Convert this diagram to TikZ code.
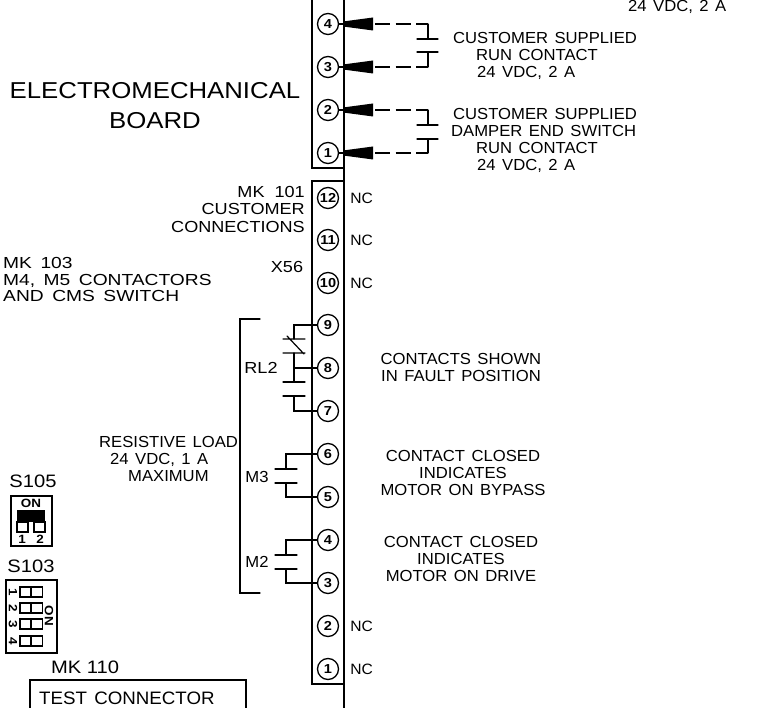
\documentclass[tikz,border=0pt]{standalone}
\usepackage{fontspec}
\setmainfont[FakeStretch=1.12]{Liberation Sans}
\newfontfamily\midf[FakeStretch=1.04,WordSpace=1.4]{Liberation Sans}
\newfontfamily\wide[FakeStretch=1.13,WordSpace=2]{Liberation Sans}
\newfontfamily\xwide[FakeStretch=1.2,WordSpace=1.6]{Liberation Sans}
\tikzset{
  wire/.style={line width=1.2pt,line cap=round,line join=miter},
  term/.style={circle,draw,line width=1.3pt,fill=white,minimum size=21pt,inner sep=0pt,font=\bfseries\fontsize{13}{13}\selectfont},
  big/.style={inner sep=0pt,font=\fontsize{23}{23}\selectfont,align=center},
  mid/.style={inner sep=0pt,font=\midf\fontsize{16}{16}\selectfont,align=center},
  midw/.style={inner sep=0pt,font=\wide\fontsize{16}{16}\selectfont,align=center},
  midx/.style={inner sep=0pt,font=\xwide\fontsize{16}{16}\selectfont,align=left},
  nclab/.style={inner sep=0pt,font=\midf\fontsize{15}{15}\selectfont},
  refd/.style={inner sep=0pt,font=\fontsize{18}{18}\selectfont},
  tinyb/.style={inner sep=0pt,font=\bfseries\fontsize{12}{12}\selectfont},
  wedge/.style={fill=black,draw=none}
}
\begin{document}
\begin{tikzpicture}[x=1pt,y=-1pt]
\useasboundingbox (0,0) rectangle (760,708);
% strips
\draw[wire] (344,0) -- (344,708);
\draw[wire] (312,0) -- (312,168) -- (344,168);
\draw[wire] (344,181) -- (312,181) -- (312,684) -- (344,684);
% upper terminals
\foreach \n/\y in {4/24,3/67,2/110,1/153}{
  \node[term] (u\n) at (328,\y) {\n};
  \coordinate (ue\n) at (344,\y);
  \coordinate (ud\n) at (428,\y);
  \draw[wire] (u\n) -- (ue\n);
  \fill[wedge] (343,\y-2.5) -- (373,\y-6.5) -- (373,\y+6.5) -- (343,\y+2.5) -- cycle;
  \draw[wire,line cap=butt,dash pattern=on 15pt off 5.5pt] (375,\y) -- (ud\n);
}
\draw[wire] (ud4) -- (428,39) (417,39) -- (438,39) (417,52) -- (438,52) (428,52) -- (ud3);
\draw[wire] (ud2) -- (428,125) (417,125) -- (438,125) (417,139) -- (438,139) (428,139) -- (ud1);
% lower terminals
\foreach \n/\y in {12/198,11/240,10/283,9/325,8/368,7/411,6/454,5/497,4/540,3/583,2/626,1/669}{
  \node[term] (t\n) at (328,\y) {\n};
}
\foreach \n in {12,11,10,2,1}{
  \node[nclab,anchor=west] (nc\n) at ([xshift=11pt]t\n.east) {NC};
}
% RL2
\coordinate (a9) at (294,325); \coordinate (a8) at (294,368); \coordinate (a7) at (294,411);
\draw[wire] (t9) -- (a9) -- (294,339);
\draw[wire] (283,339) -- (305,339) (283,353) -- (305,353) (287,336) -- (304,354);
\draw[wire] (294,353) -- (a8) -- (294,382) (a8) -- (t8);
\draw[wire] (283,382) -- (305,382) (283,396) -- (305,396);
\draw[wire] (294,396) -- (a7) -- (t7);
% M3
\coordinate (a6) at (286,454); \coordinate (a5) at (286,497);
\draw[wire] (t6) -- (a6) -- (286,469) (275,469) -- (297,469) (275,483) -- (297,483) (286,483) -- (a5) -- (t5);
% M2
\coordinate (a4) at (286,540); \coordinate (a3) at (286,583);
\draw[wire] (t4) -- (a4) -- (286,555) (275,555) -- (297,555) (275,569) -- (297,569) (286,569) -- (a3) -- (t3);
% bracket
\draw[wire] (260,319) -- (240,319) -- (240,593) -- (260,593);
% text
\node[big] (board) at (155,106) {ELECTROMECHANICAL\\[7pt]BOARD};
\node[mid,anchor=west] (top) at (628,7) {24 VDC, 2 A};
\node[mid,align=left,anchor=west] (c1) at (453,56) {CUSTOMER SUPPLIED\\[1pt]\hspace*{23pt}RUN CONTACT\\[1pt]\hspace*{24pt}24 VDC, 2 A};
\node[mid,align=left,anchor=west] (c2) at (451,140) {\hspace*{2pt}CUSTOMER SUPPLIED\\[1pt]DAMPER END SWITCH\\[1pt]\hspace*{25pt}RUN CONTACT\\[1pt]\hspace*{26pt}24 VDC, 2 A};
\node[midw,align=right,anchor=east] (mk101) at (305,209) {MK 101\\[1pt]CUSTOMER\\[2pt]CONNECTIONS};
\node[midx,anchor=west] (mk103) at (3,279) {MK 103\\[1pt]M4, M5 CONTACTORS\\[0pt]AND CMS SWITCH};
\node[midw] (x56) at (287,267) {X56};
\node[midw] (rl2) at (261,368) {RL2};
\node[mid] (m3) at (257,477) {M3};
\node[mid] (m2) at (257,562) {M2};
\node[mid,align=left,anchor=west] (res) at (99,459) {RESISTIVE LOAD\\[1pt]\hspace*{11pt}24 VDC, 1 A\\[1pt]\hspace*{29pt}MAXIMUM};
\node[mid] (fault) at (461,367) {CONTACTS SHOWN\\[1pt]IN FAULT POSITION};
\node[mid] (by) at (463,473) {CONTACT CLOSED\\[1pt]INDICATES\\[1pt]MOTOR ON BYPASS};
\node[mid] (dr) at (461,559) {CONTACT CLOSED\\[1pt]INDICATES\\[1pt]MOTOR ON DRIVE};
\node[refd] (s105) at (33,481) {S105};
\node[refd] (s103) at (31,566) {S103};
\node[refd] (mk110) at (85,667) {MK 110};
\node[inner sep=0pt,font=\midf\fontsize{18}{18}\selectfont,anchor=west] (tc) at (39,698) {TEST CONNECTOR};
% S105
\draw[wire] (11,496) rectangle (52,546);
\fill (17,510) rectangle (45,522);
\draw[wire] (17,522) rectangle (28,532) (34,522) rectangle (45,532);
\node[tinyb] (on) at (31,503) {ON};
\node[tinyb] (s1) at (22,539) {1};
\node[tinyb] (s2) at (40,539) {2};
% S103
\draw[wire] (6,580) rectangle (57,653);
\foreach \n/\y in {1/587,2/603,3/619,4/636}{
  \draw[wire] (20,\y) rectangle (42.5,\y+10) (31,\y) -- (31,\y+10);
  \node[tinyb,rotate=-90] (d\n) at (13,\y+5) {\n};
}
\node[tinyb,rotate=-90] (on3) at (49,616) {ON};
% test box
\draw[wire] (30,708) -- (30,680) -- (246,680) -- (246,708);
\end{tikzpicture}
\end{document}
